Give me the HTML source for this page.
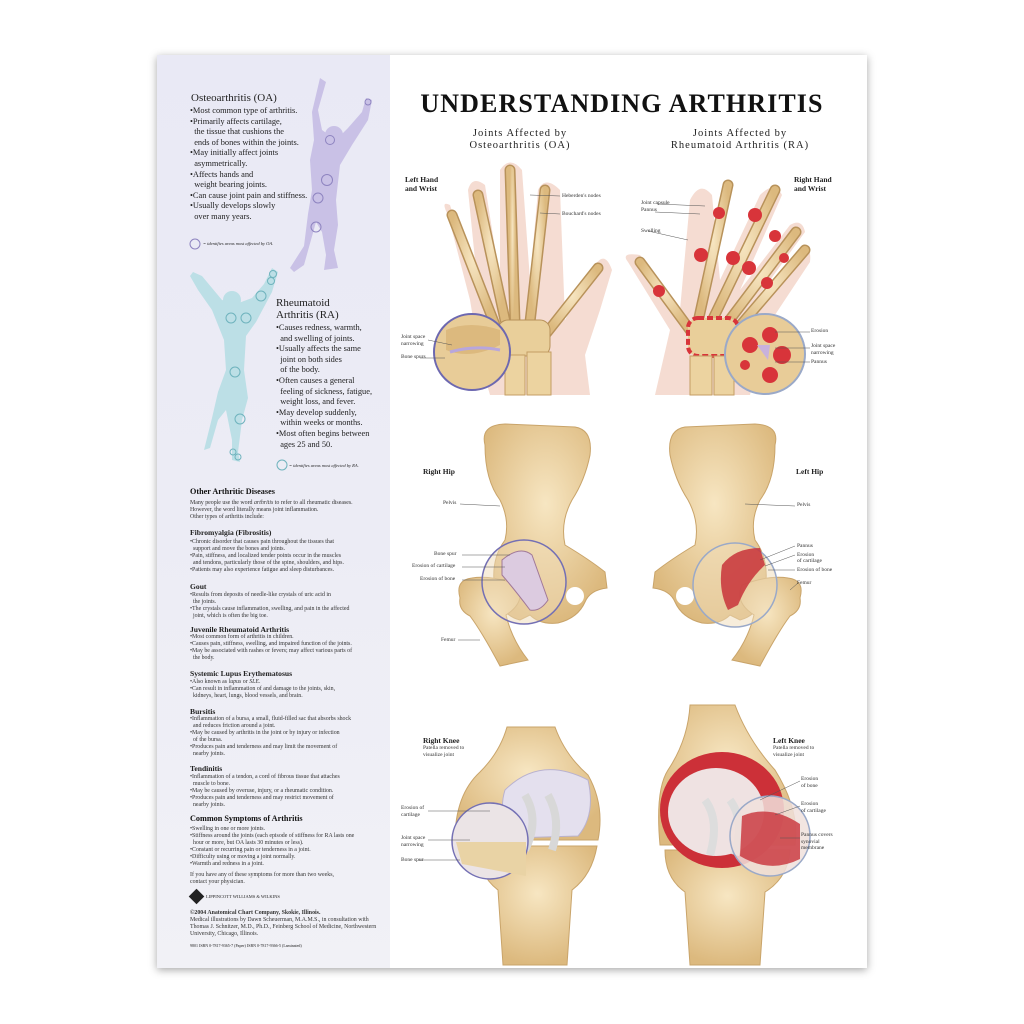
<!DOCTYPE html>
<html><head><meta charset="utf-8">
<style>
*{margin:0;padding:0;box-sizing:border-box}
body{width:1024px;height:1024px;background:#fff;position:relative;overflow:hidden;font-family:"Liberation Serif",serif;color:#222}
.poster{position:absolute;left:157px;top:55px;width:710px;height:913px;background:#fff;box-shadow:0 2px 8px rgba(0,0,0,.35)}
.lp{position:absolute;left:157px;top:55px;width:233px;height:913px;background:linear-gradient(180deg,#e9e9f5,#ececf5 50%,#f1f1f6)}
.t{position:absolute;white-space:nowrap}
.h1{font-size:11px;line-height:11px}
.oa{font-size:8.4px;line-height:10.6px}
.s{font-size:5.9px;line-height:7.1px;color:#333}
.hd{font-size:7.6px;font-weight:bold;color:#222}
.lbl{font-size:5.5px;color:#333}
.sec{font-size:8.2px;font-weight:bold;line-height:9.5px;color:#111}
</style></head><body>
<div class="poster"></div>
<div class="lp"></div>

<svg style="position:absolute;left:0;top:0" width="1024" height="1024">
 <g fill="#c9c1e6">
  <path d="M320 78 L326 82 L318 110 L322 130 L336 140 L348 128 L362 112 L366 98 L372 100 L368 120 L352 145 L340 165 L336 200 L338 225 L334 250 L338 268 L324 270 L326 255 L322 232 L316 222 L304 265 L294 272 L290 268 L304 246 L308 214 L312 190 L310 160 L314 140 L312 112 Z"/>
  <circle cx="334" cy="135" r="9"/>
 </g>
 <g fill="none" stroke="#8e84c0" stroke-width="1">
  <circle cx="368" cy="102" r="3"/><circle cx="330" cy="140" r="4.5"/><circle cx="327" cy="180" r="5.5"/><circle cx="318" cy="198" r="5"/><circle cx="316" cy="227" r="5"/>
  <circle cx="195" cy="244" r="5"/>
 </g>
 <g fill="#bcdfe6">
  <path d="M193 272 L202 276 L222 300 L236 304 L252 298 L264 284 L272 268 L278 272 L272 292 L256 322 L246 336 L244 370 L248 398 L242 420 L238 452 L240 462 L232 460 L232 440 L226 410 L218 420 L210 448 L204 450 L212 418 L218 392 L226 370 L224 340 L212 310 L198 290 L190 276 Z"/>
  <circle cx="232" cy="300" r="9"/>
 </g>
 <g fill="none" stroke="#6fb3bd" stroke-width="1">
  <circle cx="273" cy="274" r="3.5"/><circle cx="271" cy="281" r="3.5"/><circle cx="261" cy="296" r="5"/><circle cx="246" cy="318" r="5"/><circle cx="231" cy="318" r="5"/><circle cx="235" cy="372" r="5"/><circle cx="240" cy="419" r="5"/><circle cx="233" cy="452" r="3"/><circle cx="238" cy="457" r="3"/>
  <circle cx="282" cy="465" r="5"/>
 </g>
</svg>

<div class="t h1" style="left:191px;top:93px">Osteoarthritis (OA)</div>
<div class="t oa" style="left:190px;top:106px">•Most common type of arthritis.<br>•Primarily affects cartilage,<br>&nbsp;&nbsp;the tissue that cushions the<br>&nbsp;&nbsp;ends of bones within the joints.<br>•May initially affect joints<br>&nbsp;&nbsp;asymmetrically.<br>•Affects hands and<br>&nbsp;&nbsp;weight bearing joints.<br>•Can cause joint pain and stiffness.<br>•Usually develops slowly<br>&nbsp;&nbsp;over many years.</div>
<div class="t" style="left:203px;top:241px;font-size:4.5px;font-style:italic">= identifies areas most affected by OA.</div>
<div class="t h1" style="left:276px;top:297px;line-height:12px">Rheumatoid<br>Arthritis (RA)</div>
<div class="t oa" style="left:276px;top:323px">•Causes redness, warmth,<br>&nbsp;&nbsp;and swelling of joints.<br>•Usually affects the same<br>&nbsp;&nbsp;joint on both sides<br>&nbsp;&nbsp;of the body.<br>•Often causes a general<br>&nbsp;&nbsp;feeling of sickness, fatigue,<br>&nbsp;&nbsp;weight loss, and fever.<br>•May develop suddenly,<br>&nbsp;&nbsp;within weeks or months.<br>•Most often begins between<br>&nbsp;&nbsp;ages 25 and 50.</div>
<div class="t" style="left:289px;top:463px;font-size:4.5px;font-style:italic">= identifies areas most affected by RA.</div>

<div class="t sec" style="left:190px;top:487px">Other Arthritic Diseases</div>
<div class="t s" style="left:190px;top:500px">Many people use the word <i>arthritis</i> to refer to all rheumatic diseases.<br>However, the word literally means joint inflammation.<br>Other types of arthritis include:</div>
<div class="t hd" style="left:190px;top:528px">Fibromyalgia (Fibrositis)</div>
<div class="t s" style="left:190px;top:539px">•Chronic disorder that causes pain throughout the tissues that<br>&nbsp;&nbsp;support and move the bones and joints.<br>•Pain, stiffness, and localized tender points occur in the muscles<br>&nbsp;&nbsp;and tendons, particularly those of the spine, shoulders, and hips.<br>•Patients may also experience fatigue and sleep disturbances.</div>
<div class="t hd" style="left:190px;top:582px">Gout</div>
<div class="t s" style="left:190px;top:592px">•Results from deposits of needle-like crystals of uric acid in<br>&nbsp;&nbsp;the joints.<br>•The crystals cause inflammation, swelling, and pain in the affected<br>&nbsp;&nbsp;joint, which is often the big toe.</div>
<div class="t hd" style="left:190px;top:625px">Juvenile Rheumatoid Arthritis</div>
<div class="t s" style="left:190px;top:634px">•Most common form of arthritis in children.<br>•Causes pain, stiffness, swelling, and impaired function of the joints.<br>•May be associated with rashes or fevers; may affect various parts of<br>&nbsp;&nbsp;the body.</div>
<div class="t hd" style="left:190px;top:669px">Systemic Lupus Erythematosus</div>
<div class="t s" style="left:190px;top:679px">•Also known as <i>lupus</i> or <i>SLE</i>.<br>•Can result in inflammation of and damage to the joints, skin,<br>&nbsp;&nbsp;kidneys, heart, lungs, blood vessels, and brain.</div>
<div class="t hd" style="left:190px;top:707px">Bursitis</div>
<div class="t s" style="left:190px;top:716px">•Inflammation of a bursa, a small, fluid-filled sac that absorbs shock<br>&nbsp;&nbsp;and reduces friction around a joint.<br>•May be caused by arthritis in the joint or by injury or infection<br>&nbsp;&nbsp;of the bursa.<br>•Produces pain and tenderness and may limit the movement of<br>&nbsp;&nbsp;nearby joints.</div>
<div class="t hd" style="left:190px;top:764px">Tendinitis</div>
<div class="t s" style="left:190px;top:774px">•Inflammation of a tendon, a cord of fibrous tissue that attaches<br>&nbsp;&nbsp;muscle to bone.<br>•May be caused by overuse, injury, or a rheumatic condition.<br>•Produces pain and tenderness and may restrict movement of<br>&nbsp;&nbsp;nearby joints.</div>
<div class="t sec" style="left:190px;top:814px">Common Symptoms of Arthritis</div>
<div class="t s" style="left:190px;top:826px">•Swelling in one or more joints.<br>•Stiffness around the joints (each episode of stiffness for RA lasts one<br>&nbsp;&nbsp;hour or more, but OA lasts 30 minutes or less).<br>•Constant or recurring pain or tenderness in a joint.<br>•Difficulty using or moving a joint normally.<br>•Warmth and redness in a joint.</div>
<div class="t s" style="left:190px;top:872px">If you have any of these symptoms for more than two weeks,<br>contact your physician.</div>
<div class="t" style="left:191px;top:891px;width:11px;height:11px;background:#222;transform:rotate(45deg)"></div>
<div class="t" style="left:206px;top:894px;font-size:4.5px">LIPPINCOTT WILLIAMS &amp; WILKINS</div>
<div class="t s" style="left:190px;top:910px"><b>©2004 Anatomical Chart Company, Skokie, Illinois.</b><br>Medical illustrations by Dawn Scheuerman, M.A.M.S., in consultation with<br>Thomas J. Schnitzer, M.D., Ph.D., Feinberg School of Medicine, Northwestern<br>University, Chicago, Illinois.</div>
<div class="t" style="left:190px;top:943px;font-size:4px">9801 ISBN 0-7817-9365-7 (Paper) ISBN 0-7817-9366-5 (Laminated)</div>

<div class="t" style="left:398px;top:89px;width:448px;text-align:center;font-size:26px;font-weight:bold;letter-spacing:1.1px;color:#111">UNDERSTANDING ARTHRITIS</div>
<div class="t" style="left:440px;top:128px;width:160px;text-align:center;font-size:10.5px;line-height:11.5px;letter-spacing:1px">Joints Affected by<br>Osteoarthritis (OA)</div>
<div class="t" style="left:640px;top:128px;width:200px;text-align:center;font-size:10.5px;line-height:11.5px;letter-spacing:1px">Joints Affected by<br>Rheumatoid Arthritis (RA)</div>
<div class="t" style="left:405px;top:176px;font-size:7.5px;font-weight:bold;line-height:8.5px">Left Hand<br>and Wrist</div>
<div class="t" style="left:794px;top:176px;font-size:7.5px;font-weight:bold;line-height:8.5px">Right Hand<br>and Wrist</div>

<svg style="position:absolute;left:0;top:0" width="1024" height="1024">
 <defs>
  <radialGradient id="bn" cx="50%" cy="40%" r="60%"><stop offset="0" stop-color="#f7e6c2"/><stop offset="1" stop-color="#dcb97e"/></radialGradient>
  <path id="hip" d="M485 445 Q480 425 505 424 L575 427 Q593 430 590 455 Q585 480 572 500 Q560 522 565 545 Q590 560 605 572 L607 588 Q590 590 585 602 Q578 618 558 623 Q540 625 530 615 L520 620 Q500 615 495 590 Q490 560 505 540 Q510 520 500 500 Q485 480 485 445 Z"/>
  <path id="fem" d="M460 598 Q455 580 472 578 Q492 575 518 585 Q526 602 506 615 Q512 640 528 660 L500 666 Q482 632 470 616 Q458 610 460 598 Z"/>
 </defs>
 <!-- LEFT HAND -->
 <path d="M450 205 Q440 200 448 215 L470 300 L480 360 L490 395 L590 395 L585 355 L600 310 L612 270 Q605 250 595 265 L565 320 L560 190 Q545 175 538 190 L530 280 L522 170 Q510 155 500 170 L500 280 L485 185 Q472 175 468 190 L478 290 Z" fill="#f5dcd2"/>
 <g stroke="#b8925a" stroke-width="11" stroke-linecap="round" fill="none"><path d="M452 215 L495 325"/><path d="M478 195 L505 320"/><path d="M510 170 L515 322"/><path d="M545 190 L530 322"/><path d="M598 268 L545 335"/></g>
 <g stroke="url(#bn)" stroke-width="8" stroke-linecap="round" fill="none"><path d="M452 215 L495 325"/><path d="M478 195 L505 320"/><path d="M510 170 L515 322"/><path d="M545 190 L530 322"/><path d="M598 268 L545 335"/></g>
 <rect x="498" y="320" width="52" height="36" rx="10" fill="#e9cf9a" stroke="#b8925a"/>
 <rect x="505" y="355" width="20" height="40" fill="#ecd3a0" stroke="#c49e64"/><rect x="527" y="352" width="24" height="43" fill="#ecd3a0" stroke="#c49e64"/>
 <circle cx="472" cy="352" r="38" fill="#e8cc98" stroke="#6d68b0" stroke-width="2"/>
 <path d="M446 330 Q470 320 500 330 L500 345 Q470 360 446 350 Z" fill="#dcb97e"/><path d="M450 352 Q475 345 500 350" stroke="#b8a6dc" stroke-width="3" fill="none"/>
 <!-- RIGHT HAND -->
 <path d="M628 262 Q620 252 640 255 L680 310 L690 200 Q700 180 712 195 L720 280 L760 195 Q775 180 782 195 L740 290 L790 225 Q802 218 805 232 L752 305 L800 250 Q812 245 810 262 L765 330 L750 395 L655 395 L670 330 Z" fill="#f5dcd2"/>
 <g stroke="#b8925a" stroke-width="11" stroke-linecap="round" fill="none"><path d="M640 262 L690 330"/><path d="M728 185 L698 322"/><path d="M775 190 L710 325"/><path d="M796 232 L722 330"/><path d="M805 250 L732 335"/></g>
 <g stroke="url(#bn)" stroke-width="8" stroke-linecap="round" fill="none"><path d="M640 262 L690 330"/><path d="M728 185 L698 322"/><path d="M775 190 L710 325"/><path d="M796 232 L722 330"/><path d="M805 250 L732 335"/></g>
 <g fill="#d8343a"><circle cx="719" cy="213" r="6"/><circle cx="755" cy="215" r="7"/><circle cx="775" cy="236" r="6"/><circle cx="784" cy="258" r="5"/><circle cx="701" cy="255" r="7"/><circle cx="733" cy="258" r="7"/><circle cx="749" cy="268" r="7"/><circle cx="767" cy="283" r="6"/><circle cx="659" cy="291" r="6"/></g>
 <rect x="688" y="318" width="50" height="38" rx="10" fill="#e9cf9a" stroke="#d8343a" stroke-width="4" stroke-dasharray="6 3"/>
 <rect x="690" y="356" width="22" height="39" fill="#ecd3a0" stroke="#c49e64"/><rect x="714" y="356" width="20" height="39" fill="#ecd3a0" stroke="#c49e64"/>
 <circle cx="765" cy="354" r="40" fill="#e8cc98" stroke="#9aa9c8" stroke-width="2"/>
 <g fill="#d8343a"><circle cx="750" cy="345" r="8"/><circle cx="770" cy="335" r="8"/><circle cx="782" cy="355" r="9"/><circle cx="770" cy="375" r="8"/><circle cx="745" cy="365" r="5"/></g>
 <path d="M757 345 L770 345 L768 360 Z" fill="#c8b2dc"/>

 <!-- HIPS -->
 <g fill="url(#bn)" stroke="#c9a46a" stroke-width="1">
  <use href="#hip"/><use href="#fem"/>
  <g transform="translate(1260,0) scale(-1,1)"><use href="#hip"/><use href="#fem"/></g>
 </g>
 <circle cx="575" cy="596" r="9" fill="#fff"/><circle cx="685" cy="596" r="9" fill="#fff"/>
 <circle cx="524" cy="582" r="42" fill="#efdcb8" fill-opacity=".5" stroke="#7470b4" stroke-width="1.5"/>
 <circle cx="735" cy="585" r="42" fill="#efdcb8" fill-opacity=".5" stroke="#9aa9c8" stroke-width="1.5"/>
 <path d="M502 560 Q520 545 532 555 L548 600 Q540 612 530 610 Q515 590 502 575 Z" fill="#dccbe0" stroke="#a07898"/>
 <path d="M722 565 Q735 548 760 548 L765 565 Q748 580 738 605 L728 610 Q718 590 722 565 Z" fill="#c8323a" fill-opacity=".85"/>

 <!-- KNEES -->
 <g fill="url(#bn)" stroke="#c9a46a">
  <path d="M507 727 L555 727 Q565 755 588 775 Q605 805 598 840 L455 840 Q455 795 480 772 Q500 752 507 727 Z"/>
  <path d="M478 846 L597 846 Q592 875 572 890 L567 965 L503 965 L498 890 Q478 875 478 846 Z"/>
  <path d="M690 705 L735 705 Q748 740 775 770 Q800 810 795 845 L660 845 Q655 790 668 770 Q688 740 690 705 Z"/>
  <path d="M665 850 L790 850 Q788 878 765 892 L760 965 L690 965 L685 892 Q665 878 665 850 Z"/>
 </g>
 <path d="M505 790 Q540 755 588 780 Q596 815 578 836 L510 838 Q498 812 505 790 Z" fill="#e4e0ee" stroke="#b9b2cf"/>
 <path d="M525 795 Q540 820 525 850 M548 795 Q562 820 552 850" stroke="#d8d8d8" stroke-width="8" fill="none"/>
 <circle cx="490" cy="841" r="38" fill="#ebe4e6" stroke="#7470b4" stroke-width="1.5"/>
 <path d="M456 842 L526 842 L526 876 L462 864 Z" fill="#e9d3a5"/>
 <ellipse cx="722" cy="810" rx="62" ry="58" fill="#cc3038"/>
 <ellipse cx="716" cy="812" rx="48" ry="44" fill="#efe2e2"/>
 <path d="M705 800 Q720 820 710 855 M730 800 Q745 820 735 855" stroke="#ddd" stroke-width="8" fill="none"/>
 <circle cx="770" cy="836" r="40" fill="#f0e0dc" fill-opacity=".85" stroke="#9aa9c8" stroke-width="1.5"/>
 <path d="M742 816 Q770 804 800 824 L800 859 Q770 874 740 856 Z" fill="#c8323a" fill-opacity=".8"/>

 <g stroke="#555" stroke-width=".5">
  <line x1="530" y1="195" x2="560" y2="196"/><line x1="540" y1="213" x2="560" y2="214"/>
  <line x1="657" y1="204" x2="705" y2="206"/><line x1="655" y1="212" x2="700" y2="214"/><line x1="648" y1="231" x2="688" y2="240"/>
  <line x1="428" y1="340" x2="452" y2="345"/><line x1="420" y1="358" x2="445" y2="358"/>
  <line x1="775" y1="332" x2="810" y2="332"/><line x1="775" y1="348" x2="810" y2="348"/><line x1="775" y1="362" x2="810" y2="362"/>
  <line x1="460" y1="504" x2="500" y2="506"/><line x1="462" y1="555" x2="510" y2="555"/><line x1="462" y1="567" x2="505" y2="567"/><line x1="462" y1="580" x2="505" y2="580"/><line x1="458" y1="640" x2="480" y2="640"/>
  <line x1="745" y1="504" x2="795" y2="506"/><line x1="760" y1="560" x2="795" y2="546"/><line x1="765" y1="566" x2="795" y2="555"/><line x1="768" y1="570" x2="795" y2="570"/><line x1="790" y1="590" x2="798" y2="583"/>
  <line x1="428" y1="811" x2="490" y2="811"/><line x1="428" y1="840" x2="470" y2="840"/><line x1="418" y1="860" x2="460" y2="860"/>
  <line x1="760" y1="800" x2="800" y2="781"/><line x1="775" y1="815" x2="800" y2="806"/><line x1="780" y1="838" x2="800" y2="838"/>
 </g>
</svg>

<div class="t lbl" style="left:562px;top:193px">Heberden's nodes</div>
<div class="t lbl" style="left:562px;top:211px">Bouchard's nodes</div>
<div class="t lbl" style="left:641px;top:200px;line-height:7px">Joint capsule<br>Pannus</div>
<div class="t lbl" style="left:641px;top:228px">Swelling</div>
<div class="t lbl" style="left:401px;top:334px;line-height:6.5px">Joint space<br>narrowing</div>
<div class="t lbl" style="left:401px;top:354px">Bone spurs</div>
<div class="t lbl" style="left:811px;top:328px">Erosion</div>
<div class="t lbl" style="left:811px;top:343px;line-height:6.5px">Joint space<br>narrowing</div>
<div class="t lbl" style="left:811px;top:359px">Pannus</div>

<div class="t" style="left:423px;top:467px;font-size:7.5px;font-weight:bold">Right Hip</div>
<div class="t" style="left:796px;top:467px;font-size:7.5px;font-weight:bold">Left Hip</div>
<div class="t lbl" style="left:443px;top:500px">Pelvis</div>
<div class="t lbl" style="left:797px;top:502px">Pelvis</div>
<div class="t lbl" style="left:434px;top:551px">Bone spur</div>
<div class="t lbl" style="left:412px;top:563px">Erosion of cartilage</div>
<div class="t lbl" style="left:420px;top:576px">Erosion of bone</div>
<div class="t lbl" style="left:441px;top:637px">Femur</div>
<div class="t lbl" style="left:797px;top:543px">Pannus</div>
<div class="t lbl" style="left:797px;top:552px;line-height:6px">Erosion<br>of cartilage</div>
<div class="t lbl" style="left:797px;top:567px">Erosion of bone</div>
<div class="t lbl" style="left:797px;top:580px">Femur</div>

<div class="t" style="left:423px;top:736px;font-size:7.5px;font-weight:bold">Right Knee</div>
<div class="t lbl" style="left:423px;top:745px;line-height:6.5px">Patella removed to<br>visualize joint</div>
<div class="t" style="left:773px;top:736px;font-size:7.5px;font-weight:bold">Left Knee</div>
<div class="t lbl" style="left:773px;top:745px;line-height:6.5px">Patella removed to<br>visualize joint</div>
<div class="t lbl" style="left:401px;top:805px;line-height:6.5px">Erosion of<br>cartilage</div>
<div class="t lbl" style="left:401px;top:835px;line-height:6.5px">Joint space<br>narrowing</div>
<div class="t lbl" style="left:401px;top:857px">Bone spur</div>
<div class="t lbl" style="left:801px;top:776px;line-height:6.5px">Erosion<br>of bone</div>
<div class="t lbl" style="left:801px;top:801px;line-height:6.5px">Erosion<br>of cartilage</div>
<div class="t lbl" style="left:801px;top:832px;line-height:6.5px">Pannus covers<br>synovial<br>membrane</div>
</body></html>
